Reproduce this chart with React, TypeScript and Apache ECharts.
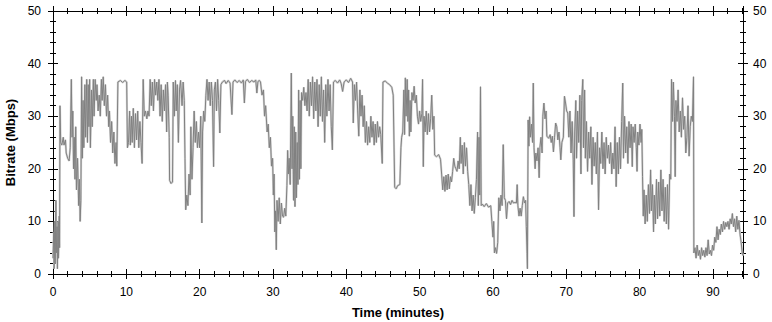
import React, { useEffect, useRef } from "react";
import * as echarts from "echarts";

// Bitrate samples [minute, Mbps]
const segA: number[][] = [
  [0.0,3],[0.1,8],[0.15,1],[0.25,10],[0.3,2],[0.4,14],[0.45,4],[0.55,9],[0.6,1],[0.7,10],[0.75,3],[0.85,11],[0.9,5],[0.95,32],[1.05,25],[1.2,24.5],[1.4,26],[1.5,24.5],[1.7,25.5],[1.8,23],[2.0,22],[2.2,21.5],[2.35,24],[2.5,37],[2.6,26],[2.7,31],[2.8,20],[2.9,26],[3.0,18],[3.1,28],[3.2,16],[3.35,22],[3.5,13],[3.6,18],[3.7,10],[3.8,14],[3.9,37.5],[4.0,22],[4.1,33],[4.2,24],[4.35,36],[4.45,26],[4.6,37],[4.7,25],[4.8,36],[4.9,28],[5.0,37],[5.1,24],[5.25,35],[5.35,28],[5.5,37],[5.6,30],[5.75,37],[5.9,33],[6.0,36],[6.15,31],[6.3,34],[6.45,30],[6.6,37],[6.7,33],[6.85,37.5],[7.0,32],[7.15,36],[7.3,30],[7.45,34],[7.6,28],[7.7,31],[7.85,25],[8.0,29],[8.15,23],[8.3,27],[8.45,21],[8.6,25],[8.7,20.5],[8.85,36.5],[9.2,36.8],[9.5,36.4],[9.8,36.8],[10.05,36.5],[10.15,24],[10.3,25],[10.45,31],[10.55,24.5],[10.7,30],[10.8,25],[10.95,31.5],[11.1,24],[11.25,30.5],[11.4,25.5],[11.55,31],[11.7,24],[11.85,29],[12.0,25],[12.15,21],[12.3,37],[12.45,30],[12.6,31],[12.8,29.5],[12.95,31],[13.1,30],[13.25,37],[13.4,32],[13.55,36.5],[13.7,31],[13.85,37],[14.0,34],[14.15,36.5],[14.3,33],[14.45,37],[14.6,30],[14.75,36],[14.9,29],[15.05,35],[15.2,31],[15.35,36],[15.5,27],[15.6,36.5],[15.7,34],[15.85,26]
];
const segB: number[][] = [
  [15.9,17.8],[16.1,17.2],[16.3,17.5],[16.4,36.5],[16.55,30],[16.7,36.8],[16.8,31],[16.95,36],[17.1,25],[17.25,35],[17.4,36.8],[17.6,32],[17.75,36.5],[17.9,33],[18.0,22],[18.1,12.2],[18.25,15],[18.4,13],[18.55,19],[18.7,15],[18.8,28],[18.95,18],[19.1,24],[19.25,31],[19.4,25],[19.55,29],[19.7,24],[19.85,27],[20.0,24],[20.15,30],[20.3,9.7],[20.4,27],[20.55,31],[20.7,29],[20.85,34],[21.0,37],[21.15,33],[21.3,36.5],[21.45,32],[21.6,36.5],[21.75,33],[21.9,20.4],[22.0,35],[22.15,36.5],[22.3,31],[22.45,37],[22.6,33],[22.75,26.8],[22.9,36],[23.1,36.5],[23.4,36.8],[23.6,36.2],[23.9,36.8],[24.15,36.3],[24.4,30.3],[24.55,36.5],[24.8,36.9],[25.1,36.4],[25.4,36.8],[25.7,36.3],[25.95,36.9],[26.1,32.5],[26.25,36.6],[26.5,37],[26.8,36.4],[27.1,36.8],[27.4,36.5],[27.65,36.9],[27.8,34.4],[27.95,36.6],[28.15,36.8],[28.3,36.5],[28.5,34],[28.7,35],[28.85,30],[29.0,32],[29.2,27],[29.35,28.5],[29.5,24],[29.65,26],[29.8,20.5],[29.95,22],[30.05,15],[30.15,19],[30.25,8],[30.35,12],[30.45,4.6],[30.55,14],[30.7,10],[30.85,14.5],[31.0,9.5],[31.15,13.5],[31.3,11]
];
const segC: number[][] = [
  [31.45,10.8],[31.6,12.5],[31.75,11],[31.9,16.8],[32.0,23.5],[32.1,19],[32.2,22],[32.35,17],[32.5,38.2],[32.6,20],[32.7,30],[32.8,14],[32.9,28],[33.0,12.8],[33.1,27],[33.2,14.5],[33.3,25],[33.4,17],[33.5,35],[33.6,18],[33.7,33],[33.8,20],[33.9,34.5],[34.05,33],[34.2,35.5],[34.35,32],[34.5,34.5],[34.65,31],[34.8,37],[34.95,30],[35.1,36.5],[35.25,32],[35.4,37.5],[35.55,29.5],[35.7,36.5],[35.85,31],[36.0,37],[36.15,28],[36.3,36],[36.45,30],[36.6,37.5],[36.75,29],[36.9,35],[37.05,25],[37.2,36],[37.35,30],[37.5,37],[37.65,31],[37.8,36],[37.95,28],[38.1,23.6],[38.25,36.5],[38.5,36.8],[38.8,36.3],[39.1,36.9],[39.3,36.2],[39.5,34.7],[39.7,36.5],[40.0,36.9],[40.3,36.4],[40.6,37.2],[40.85,36.5],[40.95,28.7],[41.1,36],[41.25,33],[41.4,36.5],[41.55,31],[41.7,26.2],[41.85,35],[42.0,30],[42.15,34],[42.3,28],[42.45,32],[42.6,25],[42.75,29],[42.9,24.5],[43.05,28],[43.2,25],[43.35,30],[43.5,26],[43.65,29],[43.8,24.5],[43.95,28.5],[44.1,25],[44.25,29],[44.4,26],[44.55,28],[44.7,26.5],[44.9,21],[45.0,36.5],[45.3,36.7],[45.6,36.3],[45.9,36],[46.2,35.5],[46.4,34],[46.6,16.5],[46.8,16.2],[47.0,16.8]
];
const segD: number[][] = [
  [47.3,17],[47.45,24],[47.55,26],[47.7,27],[47.85,35],[47.95,26.5],[48.05,37.3],[48.15,30],[48.3,37],[48.4,29],[48.5,35],[48.6,26.2],[48.7,33],[48.8,27],[48.95,34.5],[49.1,33],[49.25,35.7],[49.4,32.5],[49.55,34],[49.7,30],[49.85,28.5],[50.0,31],[50.15,29],[50.3,30.5],[50.4,37],[50.5,20.4],[50.6,30],[50.75,27],[50.9,31],[51.05,26.5],[51.2,30.5],[51.35,27],[51.5,29.5],[51.65,34],[51.8,27.5],[51.95,30],[52.05,22.6],[52.3,22.3],[52.6,22.7],[52.85,21.8],[53.0,19],[53.15,16],[53.3,18.5],[53.45,15.7],[53.6,18.8],[53.75,16],[53.9,19],[54.05,16.2],[54.2,18.5],[54.35,17.5],[54.5,19.5],[54.65,22],[54.8,20.5],[54.95,20],[55.1,19.5],[55.25,21.5],[55.4,20],[55.55,26],[55.65,21],[55.8,24.5],[55.95,19],[56.1,25],[56.25,20.5],[56.4,24],[56.55,19.5],[56.7,17],[56.85,13],[57.0,17],[57.15,12],[57.3,15],[57.45,11.5],[57.6,14.5],[57.75,18],[57.9,27],[58.0,13],[58.1,26],[58.2,15],[58.3,35.6],[58.4,13],[58.55,13.3],[58.8,12.8],[59.1,13.4],[59.4,12.7],[59.7,13],[59.85,10],[60.0,7],[60.1,10],[60.2,4],[60.35,5],[60.5,3.9],[60.65,6],[60.8,14.5],[60.95,12],[61.1,15],[61.25,13],[61.4,24.6],[61.55,14.5],[61.7,14],[61.85,10.5],[62.0,13.5],[62.2,13.8],[62.4,13.2],[62.6,14],[62.8,13.5],[63.0,13.6]
];
const segE: number[][] = [
  [63.2,13.5],[63.3,17],[63.4,13],[63.55,11],[63.7,12.5],[63.85,11],[64.0,13],[64.15,14.7],[64.3,13.5],[64.45,14],[64.55,9],[64.65,3.9],[64.7,1],[64.8,29.3],[64.9,24.3],[65.0,29.9],[65.1,26],[65.25,28.5],[65.4,25],[65.5,36.3],[65.6,24],[65.75,20],[65.85,23],[66.0,21.5],[66.15,24],[66.3,18.3],[66.4,24],[66.55,26],[66.7,23],[66.8,30],[66.95,32.5],[67.1,29.5],[67.25,31],[67.35,26.2],[67.6,25.8],[67.8,26.5],[67.95,25],[68.1,26.2],[68.25,23.2],[68.4,26],[68.55,28.7],[68.7,28],[68.85,25.5],[69.0,27],[69.15,24],[69.25,21.7],[69.4,25],[69.6,26],[69.75,33.8],[69.9,32.5],[70.05,31],[70.2,30.6],[70.35,26],[70.5,31],[70.65,23],[70.8,29],[70.95,21.7],[71.05,10.9],[71.15,27],[71.3,33],[71.4,22],[71.55,31],[71.7,25],[71.85,34],[72.0,19],[72.1,33],[72.25,37],[72.35,24],[72.5,35],[72.6,22],[72.75,29],[72.9,19.5],[73.05,27],[73.2,22],[73.35,28],[73.5,17],[73.65,26],[73.8,20.5],[73.95,25],[74.1,19],[74.25,27],[74.4,12.2],[74.55,24],[74.7,21],[74.85,27],[75.0,20],[75.15,25],[75.3,19],[75.45,26],[75.6,22],[75.75,24.5],[75.9,21],[76.05,25],[76.2,19],[76.35,23],[76.5,20],[76.65,28],[76.8,16.6],[76.95,25],[77.1,19],[77.25,26],[77.4,20],[77.55,29],[77.7,36.3],[77.8,22],[77.95,30],[78.1,23],[78.25,28],[78.4,21],[78.55,29],[78.7,24],[78.85,28.5]
];
const segF: number[][] = [
  [79.0,20.4],[79.1,28],[79.25,25],[79.4,28.5],[79.55,24],[79.65,19.5],[79.75,27],[79.9,24.5],[80.05,28.5],[80.2,25],[80.3,27.5],[80.4,18.5],[80.5,11],[80.6,16],[80.75,9.5],[80.9,15],[81.05,10],[81.2,17],[81.35,11.5],[81.5,19.8],[81.6,12],[81.75,17],[81.9,8],[82.0,15],[82.15,9.5],[82.3,18],[82.45,10.5],[82.6,17.5],[82.75,11],[82.9,19.8],[83.05,12],[83.2,18],[83.35,10],[83.5,16.5],[83.65,9.5],[83.8,17],[83.95,8.5],[84.1,19],[84.25,18],[84.35,37],[84.5,29],[84.6,36.5],[84.75,30],[84.85,18.5],[84.95,33],[85.1,29],[85.25,35],[85.4,27],[85.55,31],[85.7,26],[85.85,33.5],[86.0,27.5],[86.15,30],[86.3,23],[86.45,26],[86.6,32],[86.75,22.4],[86.9,28],[87.05,30],[87.2,29],[87.35,37.5],[87.4,4],[87.55,5],[87.7,3],[87.85,5.5],[88.0,3.5],[88.15,4.5],[88.3,2.8],[88.45,5],[88.6,3.5],[88.75,4.5],[88.9,3.2],[89.05,5],[89.2,3.5],[89.35,6.5],[89.5,3.8],[89.65,4.5],[89.8,3.5],[89.95,5.5],[90.1,4.5],[90.25,7],[90.4,6],[90.55,9],[90.7,6.5],[90.85,8.5],[91.0,7.5],[91.15,9.5],[91.3,8],[91.45,10],[91.6,8.5],[91.75,9.8],[91.9,9],[92.05,10],[92.2,8.5],[92.35,10.5],[92.5,9.5],[92.65,11.5],[92.8,9],[92.95,10.5],[93.1,8],[93.25,11],[93.4,8.5],[93.55,10.2],[93.7,7.5],[93.85,6],[94.0,4],[94.1,3.5]
];

const xTickInterval = 10;
const yTickInterval = 10;
const xMax = 94.1;
const yMax = 50;
const xTitle = "Time (minutes)";
const yTitle = "Bitrate (Mbps)";

const FONT = "Arial, 'Liberation Sans', sans-serif";

export default function App() {
  const ref = useRef<HTMLDivElement>(null);
  useEffect(() => {
    document.body.style.margin = "0";
    if (!ref.current) return;
    const chart = echarts.init(ref.current, null, { renderer: "svg" });
    const data = [...segA, ...segB, ...segC, ...segD, ...segE, ...segF];
    const black = { color: "#000", width: 1 };
    const labelStyle = { color: "#000", fontSize: 12, fontFamily: FONT };
    const mkX = (position: string, inside: boolean, main: boolean) => ({
      type: "value",
      position,
      min: 0,
      max: xMax,
      interval: xTickInterval,
      axisLine: { show: true, onZero: false, lineStyle: black },
      axisTick: { show: true, inside, length: 5, lineStyle: black },
      minorTick: { show: true, splitNumber: 5, length: 3, lineStyle: black },
      splitLine: { show: false },
      axisLabel: main
        ? { show: true, margin: 12, showMaxLabel: false, ...labelStyle }
        : { show: false },
      ...(main
        ? {
            name: xTitle,
            nameLocation: "middle",
            nameGap: 32,
            nameTextStyle: { color: "#000", fontSize: 13, fontWeight: "bold", fontFamily: FONT },
          }
        : {}),
    });
    const mkY = (position: string, inside: boolean, main: boolean, labels: boolean) => ({
      type: "value",
      position,
      min: 0,
      max: yMax,
      interval: yTickInterval,
      axisLine: { show: true, onZero: false, lineStyle: black },
      axisTick: { show: true, inside, length: 5, lineStyle: black },
      minorTick: { show: true, splitNumber: 5, length: 3, lineStyle: black },
      splitLine: { show: false },
      axisLabel: labels ? { show: true, margin: position === "left" ? 12 : 10, ...labelStyle } : { show: false },
      ...(main
        ? {
            name: yTitle,
            nameLocation: "middle",
            nameGap: 34,
            nameRotate: 90,
            nameTextStyle: { color: "#000", fontSize: 13, fontWeight: "bold", fontFamily: FONT },
          }
        : {}),
    });
    chart.setOption({
      animation: false,
      backgroundColor: "#fff",
      grid: { left: 53, right: 29, top: 11, bottom: 48, containLabel: false, outerBoundsMode: "none" },
      xAxis: [
        mkX("bottom", false, true),
        mkX("bottom", true, false),
        mkX("top", false, false),
        mkX("top", true, false),
      ],
      yAxis: [
        mkY("left", false, true, true),
        mkY("left", true, false, false),
        mkY("right", false, false, true),
        mkY("right", true, false, false),
      ],
      series: [
        {
          type: "line",
          data,
          xAxisIndex: 0,
          yAxisIndex: 0,
          showSymbol: false,
          symbol: "none",
          silent: true,
          lineStyle: { color: "#d4d4d4", width: 2.2 },
          z: 1,
        },
        {
          type: "line",
          data,
          xAxisIndex: 0,
          yAxisIndex: 0,
          showSymbol: false,
          symbol: "none",
          silent: true,
          lineStyle: { color: "#808080", width: 1 },
          z: 2,
        },
      ],
    });
    return () => chart.dispose();
  }, []);
  return <div ref={ref} style={{ width: 772, height: 322 }} />;
}
